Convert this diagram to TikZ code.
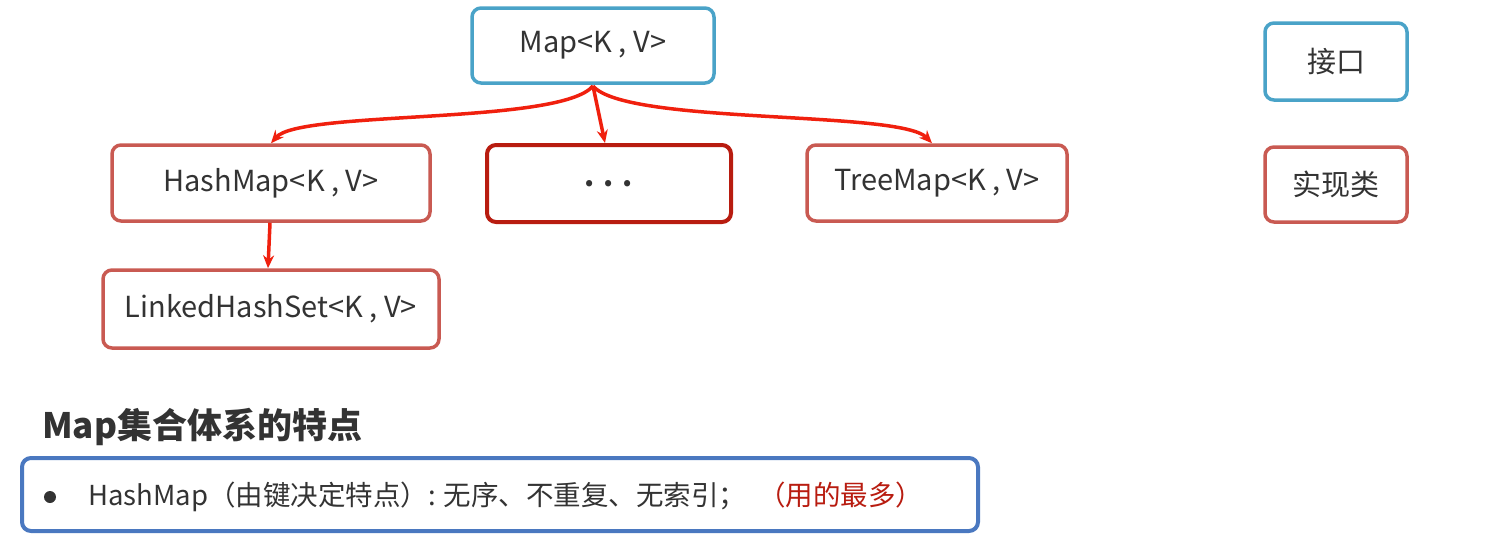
\documentclass[tikz,border=0pt]{standalone}
\usepackage{fontspec}
\setmainfont{Noto Sans CJK SC}
\usetikzlibrary{arrows.meta}
\definecolor{ifblue}{HTML}{4AA3C8}
\definecolor{impl}{HTML}{C95A52}
\definecolor{dark}{HTML}{B81C10}
\definecolor{arr}{HTML}{F0200E}
\definecolor{bblue}{HTML}{4A78C0}
\definecolor{txt}{HTML}{333333}
\begin{document}
\begin{tikzpicture}[x=1pt,y=-1pt,
  box/.style={draw=#1,line width=3.5pt,rounded corners=9pt,fill=white,text=txt,font=\fontsize{29}{32}\selectfont},
  ar/.style={draw=arr,line width=3.5pt,-{Stealth[length=13pt,width=11pt]}}]
\useasboundingbox (0,0) rectangle (1505,549);
\node[box=ifblue,minimum width=242pt,minimum height=75pt] (map) at (593,45.5) {Map<K , V>};
\node[box=ifblue,minimum width=142pt,minimum height=77pt] (jk) at (1336,61.5) {接口};
\node[box=impl,minimum width=318pt,minimum height=76pt] (hm) at (271,183) {HashMap<K , V>};
\node[box=dark,line width=4pt,minimum width=244pt,minimum height=77pt] (dots) at (609,183.5) {\textbf{. . .}};
\node[box=impl,minimum width=260pt,minimum height=76pt] (tm) at (937,183) {TreeMap<K , V>};
\node[box=impl,minimum width=142pt,minimum height=75pt] (sx) at (1336,184.5) {实现类};
\node[box=impl,minimum width=336pt,minimum height=78pt] (lhs) at (271,309) {LinkedHashSet<K , V>};
\coordinate (o) at (593,86);
\draw[ar] (o) .. controls (560,125) and (300,110) .. (hm.north);
\draw[ar] (o) -- ([xshift=-4pt]dots.north);
\draw[ar] (o) .. controls (626,125) and (900,110) .. ([xshift=-5pt]tm.north);
\draw[ar] ([xshift=-1pt]hm.south) -- ([xshift=-3pt]lhs.north);
\node[anchor=west,font=\bfseries\fontsize{35}{38}\selectfont,text=txt,inner sep=0] (title) at (42,427) {Map集合体系的特点};
\draw[draw=bblue,line width=4pt,rounded corners=9pt] (22,458) rectangle (978,531);
\node[circle,fill=txt,minimum size=12pt,inner sep=0] (bul) at (50,497) {};
\node[anchor=west,inner sep=0,text=txt,font=\fontsize{27.5}{30}\selectfont] (ft) at (88,497) {HashMap（由键决定特点）: 无序、不重复、无索引；\hspace{12pt}\textcolor{dark}{（用的最多）}};
\end{tikzpicture}
\end{document}
